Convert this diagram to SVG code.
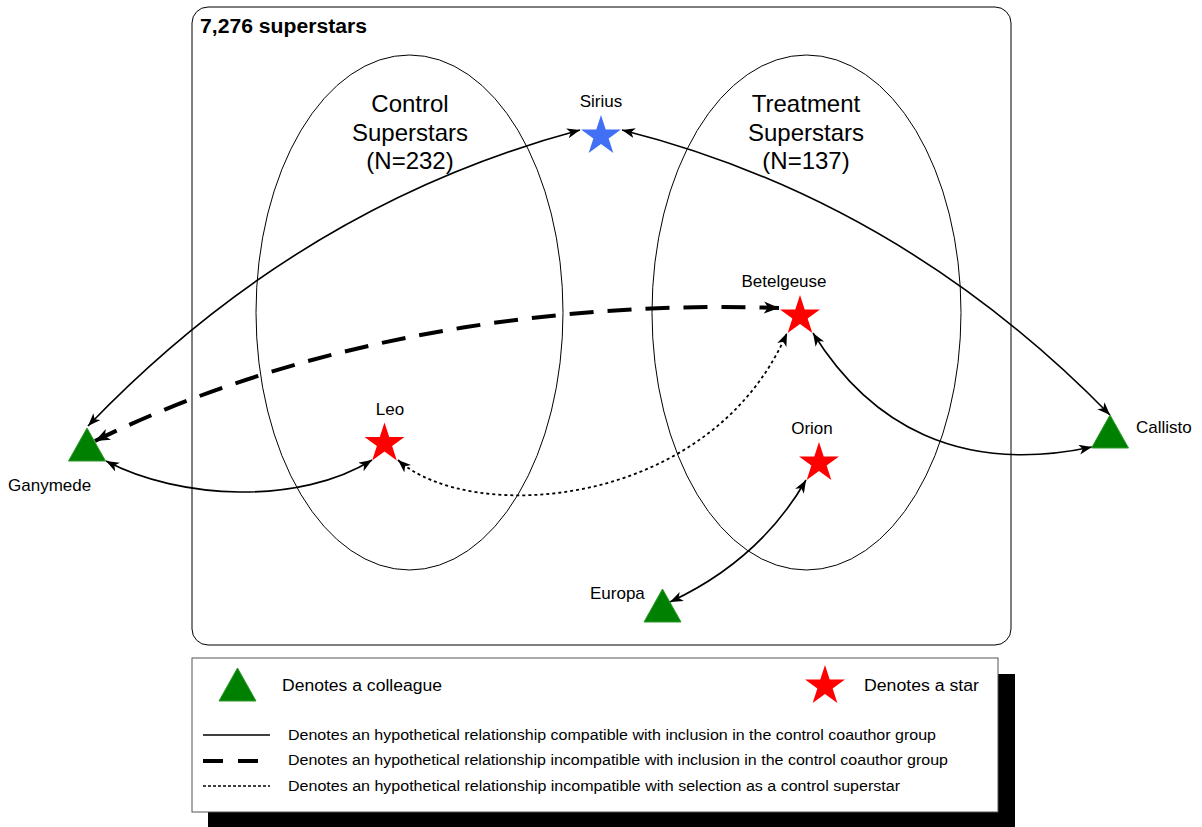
<svg xmlns="http://www.w3.org/2000/svg" xmlns:xlink="http://www.w3.org/1999/xlink" width="1202" height="827" viewBox="0 0 1202 827">
<style>
text{font-family:"Liberation Sans",Arial,sans-serif;fill:#000}
.lbl{font-size:17px}
.big{font-size:24px;text-anchor:middle}
.leg{font-size:14px}
.conn{fill:none;stroke:#000}
.solid{stroke-width:1.6;marker-start:url(#arr);marker-end:url(#arr)}
.dash{stroke-width:4;stroke-dasharray:24 14;marker-start:url(#arrB);marker-end:url(#arrB)}
.dot{stroke-width:1.8;stroke-dasharray:3 3;marker-start:url(#arr);marker-end:url(#arr)}
.tri{fill:#008000;stroke:#2a9a2a;stroke-width:1}
.rstar{fill:#ff0000}
</style>
<defs>
<marker id="arr" markerUnits="userSpaceOnUse" markerWidth="15" markerHeight="11" refX="13" refY="5" orient="auto-start-reverse">
<path d="M0,0 L13,5 L0,10 L3.5,5 z" fill="#000"/>
</marker>
<marker id="arrB" markerUnits="userSpaceOnUse" markerWidth="17" markerHeight="13" refX="15" refY="6" orient="auto-start-reverse">
<path d="M0,0 L15,6 L0,12 L4,6 z" fill="#000"/>
</marker>
<polygon id="star" points="0,-21 4.71,-6.49 19.97,-6.49 7.63,2.48 12.34,16.99 0,8.02 -12.34,16.99 -7.63,2.48 -19.97,-6.49 -4.71,-6.49"/>
<polygon id="tri" points="0,0 18.5,33 -18.5,33"/>
</defs>

<g id="frame">
<rect x="192" y="7" width="819" height="638" rx="16" ry="16" fill="#fff" stroke="#000" stroke-width="1"/>
<text x="200" y="33" style="font-size:20px;font-weight:bold" textLength="167" lengthAdjust="spacingAndGlyphs">7,276 superstars</text>
</g>

<g id="control">
<ellipse cx="409.5" cy="312.5" rx="153.5" ry="257.5" fill="none" stroke="#000" stroke-width="1"/>
<text class="big" x="410" y="112">Control</text>
<text class="big" x="410" y="141">Superstars</text>
<text class="big" x="410" y="169">(N=232)</text>
</g>

<g id="treatment">
<ellipse cx="806.5" cy="312.5" rx="154.5" ry="257.5" fill="none" stroke="#000" stroke-width="1"/>
<text class="big" x="806" y="112">Treatment</text>
<text class="big" x="806" y="141">Superstars</text>
<text class="big" x="806" y="169">(N=137)</text>
</g>

<g id="connectors">
<path class="conn solid" d="M88,426 Q 300,205 580,130"/>
<path class="conn solid" d="M622,130 Q 900,200 1110,415"/>
<path class="conn dash" d="M95,441 C 300,340 550,300 779,308"/>
<path class="conn solid" d="M106,461 C 180,500 300,505 372,460"/>
<path class="conn dot" d="M398,460 C 470,525 710,510 787,333"/>
<path class="conn solid" d="M813,333 C 870,425 960,475 1092,447"/>
<path class="conn solid" d="M670,602 Q 760,560 806,480"/>
</g>

<g id="sirius">
<use xlink:href="#star" x="601" y="136" fill="#4170f5"/>
<text class="lbl" x="601" y="107" text-anchor="middle">Sirius</text>
</g>
<g id="betelgeuse">
<use xlink:href="#star" x="800" y="316" class="rstar"/>
<text class="lbl" x="784" y="287" text-anchor="middle">Betelgeuse</text>
</g>
<g id="leo">
<use xlink:href="#star" x="384.5" y="443.5" class="rstar"/>
<text class="lbl" x="390" y="415" text-anchor="middle">Leo</text>
</g>
<g id="orion">
<use xlink:href="#star" x="819" y="463" class="rstar"/>
<text class="lbl" x="812" y="434" text-anchor="middle">Orion</text>
</g>
<g id="ganymede">
<use xlink:href="#tri" x="87" y="428" class="tri"/>
<text class="lbl" x="8" y="491">Ganymede</text>
</g>
<g id="callisto">
<use xlink:href="#tri" x="1110" y="415" class="tri"/>
<text class="lbl" x="1136" y="433">Callisto</text>
</g>
<g id="europa">
<use xlink:href="#tri" x="662.5" y="589" class="tri"/>
<text class="lbl" x="590" y="599">Europa</text>
</g>

<g id="legend">
<rect x="208" y="674" width="807" height="160" fill="#000"/>
<rect x="192" y="658" width="806" height="154" fill="#fff" stroke="#555" stroke-width="1"/>
<use xlink:href="#tri" x="237.5" y="668" class="tri"/>
<text x="282" y="691" style="font-size:16px" textLength="160" lengthAdjust="spacingAndGlyphs">Denotes a colleague</text>
<use xlink:href="#star" x="825" y="686" class="rstar"/>
<text x="864" y="691" style="font-size:16px" textLength="115" lengthAdjust="spacingAndGlyphs">Denotes a star</text>
<line x1="203" y1="735" x2="270" y2="735" stroke="#000" stroke-width="1.6"/>
<text class="leg" x="288" y="740" textLength="648" lengthAdjust="spacingAndGlyphs">Denotes an hypothetical relationship compatible with inclusion in the control coauthor group</text>
<line x1="203" y1="761" x2="270" y2="761" stroke="#000" stroke-width="4" stroke-dasharray="20 15"/>
<text class="leg" x="288" y="765" textLength="660" lengthAdjust="spacingAndGlyphs">Denotes an hypothetical relationship incompatible with inclusion in the control coauthor group</text>
<line x1="203" y1="786" x2="270" y2="786" stroke="#000" stroke-width="1.6" stroke-dasharray="3 2"/>
<text class="leg" x="288" y="791" textLength="612" lengthAdjust="spacingAndGlyphs">Denotes an hypothetical relationship incompatible with selection as a control superstar</text>
</g>
</svg>
